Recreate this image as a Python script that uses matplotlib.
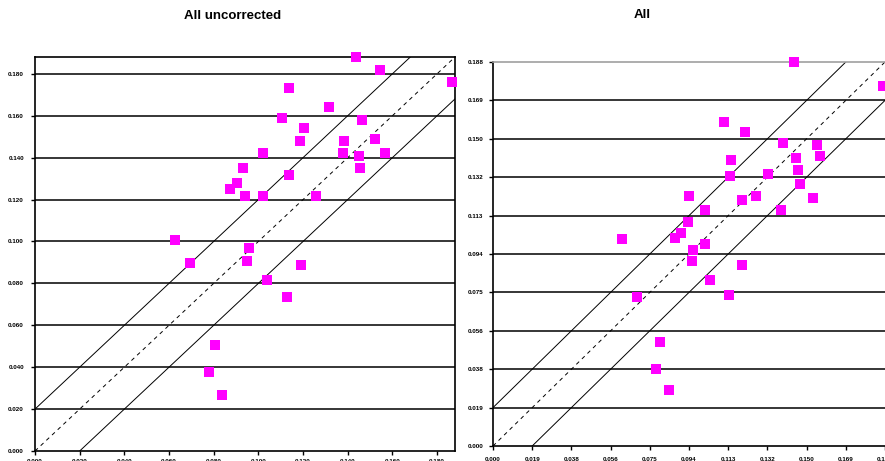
import matplotlib
matplotlib.use("Agg")
import matplotlib.pyplot as plt
import numpy as np

plt.rcParams['font.family'] = ['Liberation Sans', 'DejaVu Sans']

# ---- data: left chart "All uncorrected" ----
unc_x = [0.1437, 0.1545, 0.1866, 0.1138, 0.1317, 0.1107, 0.1464, 0.1205, 0.1188, 0.1384,
         0.1522, 0.1022, 0.1379, 0.1451, 0.1567, 0.0929, 0.1455, 0.1138, 0.0902, 0.0871,
         0.0942, 0.1022, 0.1259, 0.0625, 0.0692, 0.0960, 0.0951, 0.1192, 0.1040, 0.1129,
         0.0804, 0.0781, 0.0839]
unc_y = [0.1881, 0.1819, 0.1762, 0.1733, 0.1643, 0.1590, 0.1581, 0.1543, 0.1481, 0.1481,
         0.1490, 0.1424, 0.1424, 0.1410, 0.1424, 0.1352, 0.1352, 0.1319, 0.1281, 0.1248,
         0.1219, 0.1219, 0.1219, 0.1005, 0.0895, 0.0967, 0.0905, 0.0886, 0.0814, 0.0733,
         0.0505, 0.0376, 0.0267]

# ---- data: right chart "All" ----
all_x = [0.1445, 0.1870, 0.1110, 0.1210, 0.1392, 0.1555, 0.1143, 0.1454, 0.1569, 0.1464,
         0.1138, 0.1320, 0.1473, 0.0938, 0.1263, 0.1196, 0.1019, 0.1382, 0.1535, 0.0933,
         0.0904, 0.0871, 0.0617, 0.0957, 0.1019, 0.0952, 0.1196, 0.1043, 0.1134, 0.0689,
         0.0799, 0.0780, 0.0842]
all_y = [0.1880, 0.1763, 0.1587, 0.1538, 0.1484, 0.1475, 0.1401, 0.1411, 0.1421, 0.1353,
         0.1323, 0.1333, 0.1284, 0.1226, 0.1226, 0.1206, 0.1157, 0.1157, 0.1216, 0.1099,
         0.1045, 0.1016, 0.1011, 0.0962, 0.0991, 0.0908, 0.0884, 0.0815, 0.0737, 0.0728,
         0.0508, 0.0376, 0.0273]

# axis settings
left_max = 0.188
left_ticks = [0.000, 0.020, 0.040, 0.060, 0.080, 0.100, 0.120, 0.140, 0.160, 0.180]
left_labels = ["0.000", "0.020", "0.040", "0.060", "0.080", "0.100", "0.120", "0.140", "0.160", "0.180"]
left_band = 0.020

right_max = 0.188
right_ticks = [0.0, 0.0188, 0.0376, 0.0564, 0.0752, 0.094, 0.1128, 0.1316, 0.1504, 0.1692, 0.188]
right_labels = ["0.000", "0.019", "0.038", "0.056", "0.075", "0.094", "0.113", "0.132", "0.150", "0.169", "0.188"]
right_band = 0.0188

W, H = 885, 461
fig = plt.figure(figsize=(W / 100, H / 100), dpi=100)

ax1 = fig.add_axes([35 / W, 1 - 451 / H, 420 / W, 394 / H])
ax2 = fig.add_axes([493 / W, 1 - 446 / H, 392 / W, 384 / H])

MAG = '#FF00FF'


def style(ax, vmax, ticks, labels, band, xs, ys, ypad, xpad):
    ax.set_xlim(0, vmax)
    ax.set_ylim(0, vmax)
    for t in ticks:
        if 0 < t < vmax - 1e-9:
            ax.axhline(t, color='black', lw=1.1, zorder=1)
    ax.plot([0, vmax], [0, vmax], color='black', lw=0.7, ls=(0, (4, 4)), zorder=2)
    ax.plot([0, vmax - band], [band, vmax], color='black', lw=0.7, zorder=2)
    ax.plot([band, vmax], [0, vmax - band], color='black', lw=0.7, zorder=2)
    ax.scatter(xs, ys, marker='s', s=48, color=MAG, zorder=3, clip_on=False, linewidths=0)
    ax.set_xticks(ticks)
    ax.set_xticklabels(labels)
    ax.set_yticks(ticks)
    ax.set_yticklabels(labels)
    ax.tick_params(axis='both', direction='out', length=3, width=1, labelsize=4.5)
    ax.tick_params(axis='x', pad=xpad)
    ax.tick_params(axis='y', pad=ypad)
    for lab in ax.get_xticklabels() + ax.get_yticklabels():
        lab.set_fontweight('bold')
    for s in ax.spines.values():
        s.set_color('black')
        s.set_linewidth(1.2)


style(ax1, left_max, left_ticks, left_labels, left_band, unc_x, unc_y, 5, 3)
style(ax2, right_max, right_ticks, right_labels, right_band, all_x, all_y, 4, 5)
ax2.spines['top'].set_color('#a0a0a0')
ax2.spines['right'].set_visible(False)

fig.text(233 / W, 1 - 16 / H, "All uncorrected", ha='center', va='center',
         fontsize=9.5, fontweight='bold')
fig.text(642 / W, 1 - 15 / H, "All", ha='center', va='center',
         fontsize=9.5, fontweight='bold')

fig.savefig("out.png", dpi=100)
